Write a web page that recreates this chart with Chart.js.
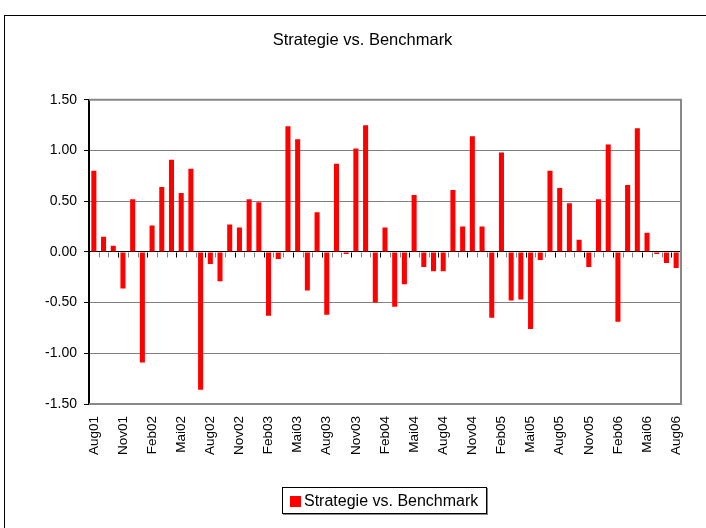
<!DOCTYPE html>
<html>
<head>
<meta charset="utf-8">
<script src="https://cdn.jsdelivr.net/npm/chart.js@4"></script>
<style>
  html, body { margin: 0; padding: 0; background: #fff; overflow: hidden; }
  body { width: 706px; height: 528px; position: relative; font-family: "Liberation Sans", Arial, sans-serif; }
  .frame { position: absolute; left: 4px; top: 15px; width: 740px; height: 560px; border: 1px solid #000; }
  #chart { position: absolute; left: 0; top: 0; }
  .legend {
    position: absolute; left: 282px; top: 487px; width: 203px; height: 25px;
    border: 1px solid #000; box-shadow: 1px 1px 0 #888;
    font-size: 16px; line-height: 25px; color: #000; white-space: nowrap;
  }
  .legend i { display: inline-block; width: 11px; height: 11px; background: #ff0000; margin: 0 3px 0 7px; vertical-align: -1px; }
</style>
</head>
<body>
<div class="frame"></div>
<canvas id="chart" width="706" height="528"></canvas>
<div class="legend"><i></i>Strategie vs. Benchmark</div>
<script>
const months = [
  'Aug01', 'Sep01', 'Okt01', 'Nov01', 'Dez01', 'Jan02', 'Feb02', 'Mär02', 'Apr02', 'Mai02', 'Jun02', 'Jul02',
  'Aug02', 'Sep02', 'Okt02', 'Nov02', 'Dez02', 'Jan03', 'Feb03', 'Mär03', 'Apr03', 'Mai03', 'Jun03', 'Jul03',
  'Aug03', 'Sep03', 'Okt03', 'Nov03', 'Dez03', 'Jan04', 'Feb04', 'Mär04', 'Apr04', 'Mai04', 'Jun04', 'Jul04',
  'Aug04', 'Sep04', 'Okt04', 'Nov04', 'Dez04', 'Jan05', 'Feb05', 'Mär05', 'Apr05', 'Mai05', 'Jun05', 'Jul05',
  'Aug05', 'Sep05', 'Okt05', 'Nov05', 'Dez05', 'Jan06', 'Feb06', 'Mär06', 'Apr06', 'Mai06', 'Jun06', 'Jul06',
  'Aug06'
];

const excess = [
  0.80, 0.15, 0.06, -0.36, 0.52, -1.09, 0.26, 0.64, 0.91, 0.58, 0.82, -1.36,
  -0.12, -0.29, 0.27, 0.24, 0.52, 0.49, -0.63, -0.07, 1.24, 1.11, -0.38, 0.39,
  -0.62, 0.87, -0.02, 1.02, 1.25, -0.50, 0.24, -0.54, -0.32, 0.56, -0.15, -0.19,
  -0.19, 0.61, 0.25, 1.14, 0.25, -0.65, 0.98, -0.48, -0.47, -0.76, -0.08, 0.80,
  0.63, 0.48, 0.12, -0.15, 0.52, 1.06, -0.69, 0.66, 1.22, 0.19, -0.02, -0.11,
  -0.16
];

// every third month gets a label, like the Excel original
const labelEvery = 3;
const font = '"Liberation Sans", Arial, sans-serif';

// small tick marks on the zero line between categories + grey plot border
const excelAxis = {
  id: 'excelAxis',
  afterDraw(chart) {
    const { ctx, chartArea: a, scales: { x, y } } = chart;
    const y0 = Math.round(y.getPixelForValue(0)) + 0.5;
    const step = x.getPixelForValue(1) - x.getPixelForValue(0);
    ctx.save();
    ctx.lineWidth = 1;
    for (let i = 1; i <= months.length; i++) {
      const px = Math.round(x.getPixelForValue(i) - step / 2) + 0.5;
      ctx.strokeStyle = i % labelEvery === 0 ? '#000' : '#808080';
      ctx.beginPath();
      ctx.moveTo(px, y0);
      ctx.lineTo(px, y0 + 5);
      ctx.stroke();
    }
    ctx.strokeStyle = '#888';
    ctx.lineWidth = 2;
    ctx.beginPath();
    ctx.moveTo(a.left, a.top);
    ctx.lineTo(a.right, a.top);
    ctx.lineTo(a.right, a.bottom);
    ctx.lineTo(a.left, a.bottom);
    ctx.stroke();
    ctx.restore();
  }
};

new Chart(document.getElementById('chart'), {
  type: 'bar',
  data: {
    labels: months,
    datasets: [{
      label: 'Strategie vs. Benchmark',
      data: excess,
      backgroundColor: '#ff0000',
      borderWidth: 0,
      barPercentage: 0.52,
      categoryPercentage: 1,
    }]
  },
  plugins: [excelAxis],
  options: {
    responsive: false,
    animation: false,
    layout: { padding: { left: 44, right: 25, top: 0, bottom: 0 } },
    plugins: {
      legend: { display: false },
      tooltip: { enabled: false },
      title: {
        display: true,
        text: 'Strategie vs. Benchmark',
        color: '#000',
        font: { family: font, size: 16.5, weight: 'normal' },
        padding: { top: 31, bottom: 49 },
      },
    },
    scales: {
      x: {
        offset: true,
        grid: { display: false, drawTicks: false },
        border: { display: false },
        ticks: {
          autoSkip: false,
          minRotation: 90,
          maxRotation: 90,
          padding: 12,
          color: '#000',
          font: { family: font, size: 13.5 },
          callback: (v, i) => (i % labelEvery === 0 ? months[i] : ''),
        },
        afterFit: (scale) => { scale.height = 124; },
      },
      y: {
        min: -1.5,
        max: 1.5,
        grid: {
          color: (c) => (c.tick && c.tick.value === 0 ? '#000' : '#808080'),
          tickColor: '#000',
          tickLength: 5,
        },
        border: { display: true, color: '#000', width: 2 },
        ticks: {
          stepSize: 0.5,
          padding: 7,
          color: '#000',
          font: { family: font, size: 14 },
          callback: (v) => v.toFixed(2),
        },
        afterFit: (scale) => { scale.width = 45; },
      }
    }
  }
});
</script>
</body>
</html>
